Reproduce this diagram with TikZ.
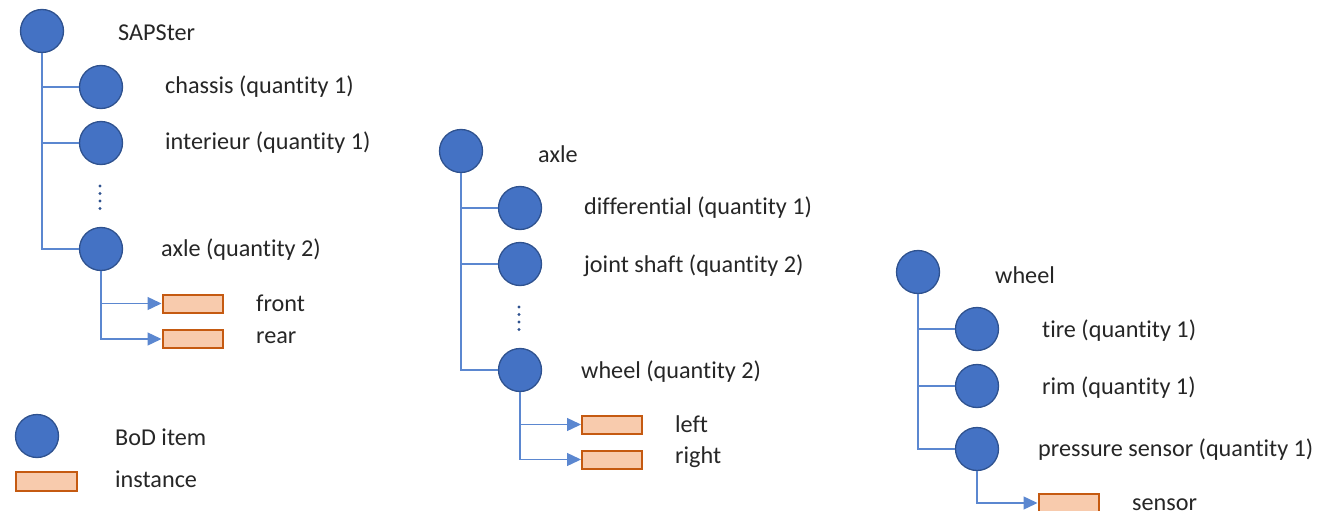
\documentclass[tikz,border=0pt]{standalone}
\usepackage{fontspec}
\setmainfont{Carlito}[Ligatures=NoCommon]
\usetikzlibrary{arrows.meta}
\definecolor{itemfill}{HTML}{4472C4}
\definecolor{itemdraw}{HTML}{2F528F}
\definecolor{instfill}{HTML}{F8CBAD}
\definecolor{instdraw}{HTML}{C55A11}
\definecolor{linkc}{HTML}{5B87D0}
\definecolor{txt}{HTML}{262626}
\tikzset{
  item/.style={circle, fill=itemfill, draw=itemdraw, line width=1.3pt, minimum size=43pt, inner sep=0pt},
  inst/.style={rectangle, fill=instfill, draw=instdraw, line width=2pt, minimum width=60pt, minimum height=18pt, inner sep=0pt},
  lbl/.style={anchor=base west, inner sep=0pt, text=txt, font=\fontsize{24.2}{28}\selectfont},
  link/.style={draw=linkc, line width=1.4pt},
  arr/.style={link, -{Triangle[length=14pt,width=13pt]}},
  vdot/.style={fill=itemdraw}
}
\begin{document}
\begin{tikzpicture}[x=1pt,y=-1pt]
\useasboundingbox (0,0) rectangle (1318,511);
% ---------- tree 1 ----------
\node[item] (sap) at (42,31) {};
\node[item] (chassis) at (101,87) {};
\node[item] (inter) at (101,143) {};
\node[item] (axle1) at (101,249) {};
\node[inst] (front) at (192.5,303.5) {};
\node[inst] (rear) at (192.5,339) {};
\node[lbl] (tsap) at (118,41) {SAPSter};
\node[lbl] (tchassis) at (165,93) {chassis (quantity 1)};
\node[lbl] (tinter) at (165,149) {interieur (quantity 1)};
\node[lbl] (taxle1) at (161,256) {axle (quantity 2)};
\node[lbl] (tfront) at (256,311) {front};
\node[lbl] (trear) at (256,343) {rear};
\draw[link] (sap.south) |- (chassis.west);
\draw[link] (sap.south) |- (inter.west);
\draw[link] (sap.south) |- (axle1.west);
\draw[arr] (axle1.south) |- (front.west);
\draw[arr] (axle1.south) |- (rear.west);
\foreach \y in {186,193.5,201,208.5} \fill[vdot] (100,\y) circle (1.6pt);
% ---------- tree 2 ----------
\node[item] (axle2) at (461,151) {};
\node[item] (diff) at (520,208) {};
\node[item] (joint) at (520,264) {};
\node[item] (wheel2) at (520,370) {};
\node[inst] (left) at (612,424.5) {};
\node[inst] (right) at (612,459.5) {};
\node[lbl] (taxle2) at (538,162) {axle};
\node[lbl] (tdiff) at (584,214) {differential (quantity 1)};
\node[lbl] (tjoint) at (584,272) {joint shaft (quantity 2)};
\node[lbl] (twheel2) at (581,378) {wheel (quantity 2)};
\node[lbl] (tleft) at (675,432) {left};
\node[lbl] (tright) at (675,463) {right};
\draw[link] (axle2.south) |- (diff.west);
\draw[link] (axle2.south) |- (joint.west);
\draw[link] (axle2.south) |- (wheel2.west);
\draw[arr] (wheel2.south) |- (left.west);
\draw[arr] (wheel2.south) |- (right.west);
\foreach \y in {307,314.5,322,329.5} \fill[vdot] (519,\y) circle (1.6pt);
% ---------- tree 3 ----------
\node[item] (wheel3) at (918,272) {};
\node[item] (tire) at (977,329) {};
\node[item] (rim) at (977,386) {};
\node[item] (press) at (977,449) {};
\node[inst] (sensor) at (1068.5,503) {};
\node[lbl] (twheel3) at (995,283) {wheel};
\node[lbl] (ttire) at (1042,337) {tire (quantity 1)};
\node[lbl] (trim) at (1042,394) {rim (quantity 1)};
\node[lbl] (tpress) at (1038,456) {pressure sensor (quantity 1)};
\node[lbl] (tsensor) at (1132,510) {sensor};
\draw[link] (wheel3.south) |- (tire.west);
\draw[link] (wheel3.south) |- (rim.west);
\draw[link] (wheel3.south) |- (press.west);
\draw[arr] (press.south) |- (sensor.west);
% ---------- legend ----------
\node[item] (legitem) at (37,436) {};
\node[inst, minimum width=61pt, minimum height=19pt] (leginst) at (46,481) {};
\node[lbl] (tlegitem) at (115,445) {BoD item};
\node[lbl] (tleginst) at (115,487) {instance};
\end{tikzpicture}
\end{document}
